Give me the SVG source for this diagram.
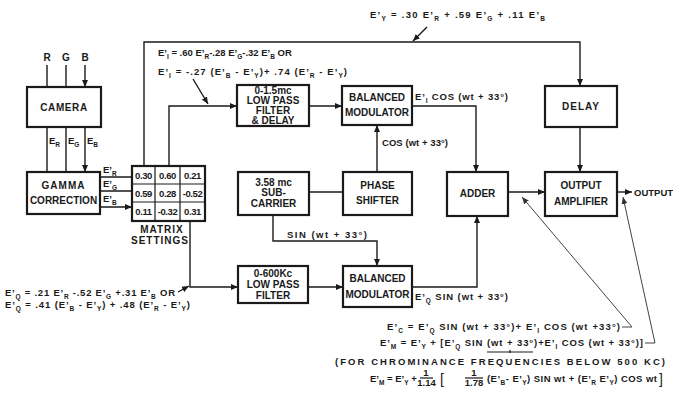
<svg xmlns="http://www.w3.org/2000/svg" width="673" height="400" viewBox="0 0 673 400">
<style>
text{font-family:"Liberation Sans",Arial,sans-serif;font-weight:bold;fill:#1a1a1a}
.bx{fill:#fff;stroke:#1a1a1a;stroke-width:2.2}
.lb{font-size:10px;text-anchor:middle}
.fm{font-size:9.5px}
.sb{font-size:6.5px;baseline-shift:-2.5px}
.c{fill:none;stroke:#1a1a1a;stroke-width:1.4}
.a{marker-end:url(#ah)}
.pt{fill:none;stroke:#444;stroke-width:1}
.mx{font-size:9.5px;text-anchor:middle;letter-spacing:-0.4px}
.ml{stroke:#1a1a1a;stroke-width:1.2}
.br{font-size:14px;font-weight:normal}
</style>
<defs>
<marker id="ah" markerWidth="8" markerHeight="8" refX="7" refY="4" orient="auto" markerUnits="userSpaceOnUse"><path d="M0,1 L7,4 L0,7 z" fill="#1a1a1a"/></marker>
<marker id="ap" markerWidth="8" markerHeight="8" refX="7" refY="4" orient="auto" markerUnits="userSpaceOnUse"><path d="M0,1 L7,4 L0,7 z" fill="#333"/></marker>
</defs>
<rect width="673" height="400" fill="#fff"/>

<g id="connectors">
<path class="c a" d="M47,65 V87 M66,65 V87 M85,65 V87"/>
<path class="c a" d="M47,127 V172 M66,127 V172 M85,127 V172"/>
<path class="c a" d="M100,177 H132 M100,191 H132 M100,207 H132"/>
<path class="c a" d="M144,166 V42 H580 V86"/>
<path class="c a" d="M169,166 V106 H237"/>
<path class="c a" d="M190,221 V287 H238"/>
<path class="c a" d="M309,106 H342"/>
<path class="c a" d="M412,106 H476 V172"/>
<path class="c a" d="M377,172 V125"/>
<path class="c" d="M309,192 H343"/>
<path class="c a" d="M273,215 V241 H377 V266"/>
<path class="c a" d="M308,287 H343"/>
<path class="c a" d="M412,287 H477 V216"/>
<path class="c a" d="M508,192 H545"/>
<path class="c a" d="M580,127 V172"/>
<path class="c a" d="M617,192 H632"/>
<path class="c a" d="M427,27 L413,41"/>
<path class="c a" d="M193,79 L208,104"/>
<path class="c a" d="M178,292 L189,286"/>
<path class="pt" d="M622,327 H632"/>
<path class="pt" marker-end="url(#ap)" d="M632,327 L522,197"/>
<path class="pt" d="M645,343 H655"/>
<path class="pt" marker-end="url(#ap)" d="M655,343 L623,197"/>
</g>

<g id="camera">
<rect class="bx" x="27" y="87" width="74" height="40"/>
<text class="lb" x="64" y="111" letter-spacing="0.6">CAMERA</text>
</g>
<g id="inputs">
<text class="lb" x="47" y="61">R</text>
<text class="lb" x="66" y="61">G</text>
<text class="lb" x="85" y="61">B</text>
<text class="fm" x="49" y="144" font-size="10">E<tspan class="sb">R</tspan></text>
<text class="fm" x="68" y="144" font-size="10">E<tspan class="sb">G</tspan></text>
<text class="fm" x="87" y="144" font-size="10">E<tspan class="sb">B</tspan></text>
</g>
<g id="gamma">
<rect class="bx" x="27" y="172" width="73" height="42"/>
<text class="lb" x="63.5" y="189" letter-spacing="1">GAMMA</text>
<text class="lb" x="63.5" y="204">CORRECTION</text>
<text class="fm" x="103" y="173" font-size="10">E’<tspan class="sb">R</tspan></text>
<text class="fm" x="103" y="187" font-size="10">E’<tspan class="sb">G</tspan></text>
<text class="fm" x="103" y="202" font-size="10">E’<tspan class="sb">B</tspan></text>
</g>
<g id="matrix">
<rect class="bx" x="132" y="166" width="73" height="55"/>
<path class="ml" d="M155,166 V221 M180,166 V221 M132,184 H205 M132,202 H205"/>
<text class="mx" x="143.5" y="178.5">0.30</text>
<text class="mx" x="167.5" y="178.5">0.60</text>
<text class="mx" x="192.5" y="178.5">0.21</text>
<text class="mx" x="143.5" y="196.5">0.59</text>
<text class="mx" x="167.5" y="196.5">0.28</text>
<text class="mx" x="192.5" y="196.5">-0.52</text>
<text class="mx" x="143.5" y="215">0.11</text>
<text class="mx" x="167.5" y="215">-0.32</text>
<text class="mx" x="192.5" y="215">0.31</text>
<text class="lb" x="162" y="233" font-size="9" letter-spacing="1">MATRIX</text>
<text class="lb" x="160" y="244" font-size="9" letter-spacing="1">SETTINGS</text>
</g>
<g id="lpf1">
<rect class="bx" x="237" y="85" width="72" height="41"/>
<text class="lb" x="273" y="94" font-size="9">0-1.5mc</text>
<text class="lb" x="273" y="104" font-size="9">LOW PASS</text>
<text class="lb" x="273" y="114" font-size="9">FILTER</text>
<text class="lb" x="273" y="124" font-size="9">&amp; DELAY</text>
</g>
<g id="bm1">
<rect class="bx" x="342" y="86" width="70" height="39"/>
<text class="lb" x="377" y="101">BALANCED</text>
<text class="lb" x="377" y="116">MODULATOR</text>
</g>
<g id="delay">
<rect class="bx" x="545" y="86" width="72" height="41"/>
<text class="lb" x="581" y="110" letter-spacing="1">DELAY</text>
</g>
<g id="subcarrier">
<rect class="bx" x="238" y="172" width="71" height="43"/>
<text class="lb" x="273.5" y="186">3.58 mc</text>
<text class="lb" x="273.5" y="196">SUB-</text>
<text class="lb" x="273.5" y="207">CARRIER</text>
</g>
<g id="phase">
<rect class="bx" x="343" y="172" width="69" height="43"/>
<text class="lb" x="377.5" y="189">PHASE</text>
<text class="lb" x="377.5" y="204">SHIFTER</text>
</g>
<g id="adder">
<rect class="bx" x="447" y="172" width="61" height="44"/>
<text class="lb" x="477.5" y="197">ADDER</text>
</g>
<g id="amp">
<rect class="bx" x="545" y="172" width="72" height="44"/>
<text class="lb" x="581" y="189">OUTPUT</text>
<text class="lb" x="581" y="205">AMPLIFIER</text>
</g>
<g id="lpf2">
<rect class="bx" x="238" y="266" width="70" height="37"/>
<text class="lb" x="273" y="277" font-size="9">0-600Kc</text>
<text class="lb" x="273" y="288" font-size="9">LOW PASS</text>
<text class="lb" x="273" y="299" font-size="9">FILTER</text>
</g>
<g id="bm2">
<rect class="bx" x="343" y="266" width="69" height="41"/>
<text class="lb" x="377.5" y="282">BALANCED</text>
<text class="lb" x="377.5" y="298">MODULATOR</text>
</g>

<g id="labels">
<text class="fm" x="370" y="18" textLength="175">E’<tspan class="sb">Y</tspan> = .30 E’<tspan class="sb">R</tspan> + .59 E’<tspan class="sb">G</tspan> + .11 E’<tspan class="sb">B</tspan></text>
<text class="fm" x="158" y="56" font-size="7.6">E’<tspan class="sb">I</tspan> = .60 E’<tspan class="sb">R</tspan>-.28 E’<tspan class="sb">G</tspan>-.32 E’<tspan class="sb">B</tspan> OR</text>
<text class="fm" x="158" y="75" textLength="189">E’<tspan class="sb">I</tspan> = -.27 (E’<tspan class="sb">B</tspan> - E’<tspan class="sb">Y</tspan>)+ .74 (E’<tspan class="sb">R</tspan> - E’<tspan class="sb">Y</tspan>)</text>
<text class="fm" x="415" y="100" textLength="93">E’<tspan class="sb">I</tspan> COS (wt + 33°)</text>
<text class="fm" x="382" y="146" textLength="66">COS (wt + 33°)</text>
<text class="fm" x="287" y="238" textLength="80">SIN (wt + 33°)</text>
<text class="fm" x="634" y="196">OUTPUT</text>
<text class="fm" x="5" y="296" textLength="170">E’<tspan class="sb">Q</tspan> = .21 E’<tspan class="sb">R</tspan> -.52 E’<tspan class="sb">G</tspan> +.31 E’<tspan class="sb">B</tspan> OR</text>
<text class="fm" x="5" y="308" textLength="185">E’<tspan class="sb">Q</tspan> = .41 (E’<tspan class="sb">B</tspan> - E’<tspan class="sb">Y</tspan>) + .48 (E’<tspan class="sb">R</tspan> - E’<tspan class="sb">Y</tspan>)</text>
<text class="fm" x="415" y="300" textLength="93">E’<tspan class="sb">Q</tspan> SIN (wt + 33°)</text>
<text class="fm" x="387" y="330" textLength="233">E’<tspan class="sb">C</tspan> = E’<tspan class="sb">Q</tspan> SIN (wt + 33°)+ E’<tspan class="sb">I</tspan> COS (wt +33°)</text>
<text class="fm" x="380" y="346" textLength="263">E’<tspan class="sb">M</tspan> = E’<tspan class="sb">Y</tspan> + [E’<tspan class="sb">Q</tspan> SIN (wt + 33°)+E’<tspan class="sb">I</tspan> COS (wt + 33°)]</text>
<path class="ml" d="M487,352 H533 M510,350 V353"/>
<text class="fm" x="335" y="365" font-size="10.5" textLength="330">(FOR CHROMINANCE FREQUENCIES BELOW 500 KC)</text>
<text class="fm" x="370" y="382" font-size="8">E’<tspan class="sb">M</tspan> = E’<tspan class="sb">Y</tspan> +</text>
<text class="fm" x="426" y="376" text-anchor="middle" font-size="7">1</text>
<path class="ml" d="M420,378 H433"/>
<text class="fm" x="426.5" y="386" text-anchor="middle" font-size="7">1.14</text>
<text class="br" x="440" y="384">[</text>
<text class="fm" x="474" y="376" text-anchor="middle" font-size="7">1</text>
<path class="ml" d="M465,378 H483"/>
<text class="fm" x="474" y="386" text-anchor="middle" font-size="7">1.78</text>
<text class="fm" x="487" y="382" textLength="170">(E’<tspan class="sb">B</tspan>- E’<tspan class="sb">Y</tspan>) SIN wt + (E’<tspan class="sb">R</tspan> E’<tspan class="sb">Y</tspan>) COS wt</text>
<text class="br" x="659" y="384">]</text>
</g>
</svg>
